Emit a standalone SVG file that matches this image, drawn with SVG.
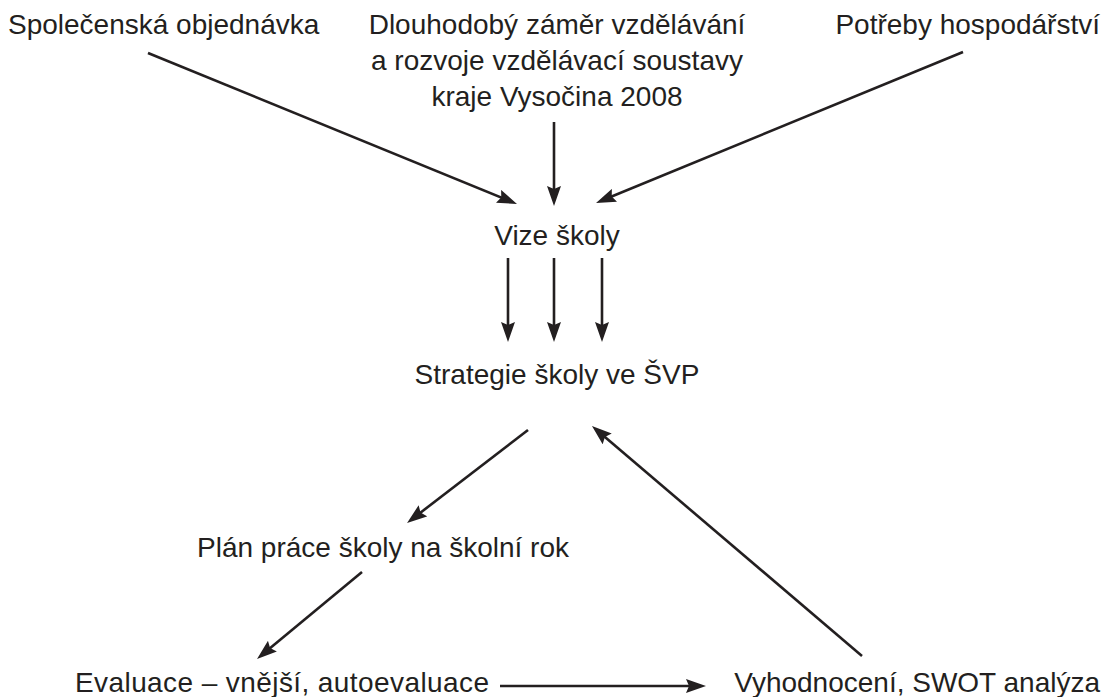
<svg xmlns="http://www.w3.org/2000/svg" width="1108" height="697" viewBox="0 0 1108 697">
<style>
text{font-family:"Liberation Sans",Arial,Helvetica,sans-serif;font-size:28px;fill:#231f20}
.c{text-anchor:middle}
.e{text-anchor:end}
line{stroke:#231f20;stroke-width:2.6;fill:none}
</style>
<defs>
<marker id="ah" viewBox="0 0 20 14" refX="13" refY="7" markerWidth="20" markerHeight="14" markerUnits="userSpaceOnUse" orient="auto">
<path d="M0,0 L20,7 L0,14 L3,7 z" fill="#231f20"/>
</marker>
</defs>
<rect width="1108" height="697" fill="#fff"/>
<g id="n-spolecenska"><text x="8" y="34">Společenská objednávka</text></g>
<g id="n-zamer"><text class="c" x="557" y="34">Dlouhodobý záměr vzdělávání</text><text class="c" x="557" y="70">a rozvoje vzdělávací soustavy</text><text class="c" x="557" y="106">kraje Vysočina 2008</text></g>
<g id="n-potreby"><text class="e" x="1100" y="34">Potřeby hospodářství</text></g>
<g id="n-vize"><text class="c" x="557" y="245">Vize školy</text></g>
<g id="n-strategie"><text class="c" x="557" y="384">Strategie školy ve ŠVP</text></g>
<g id="n-plan"><text class="c" x="383" y="557">Plán práce školy na školní rok</text></g>
<g id="n-evaluace"><text class="c" x="282" y="692" textLength="414">Evaluace – vnější, autoevaluace</text></g>
<g id="n-vyhodnoceni"><text class="e" x="1100" y="692">Vyhodnocení, SWOT analýza</text></g>
<g id="connectors">
<line x1="148" y1="53" x2="510.5" y2="201.3" marker-end="url(#ah)"/>
<line x1="554" y1="122" x2="554" y2="199" marker-end="url(#ah)"/>
<line x1="963" y1="52" x2="602.5" y2="200.3" marker-end="url(#ah)"/>
<line x1="508" y1="258" x2="508" y2="335" marker-end="url(#ah)"/>
<line x1="554" y1="258" x2="554" y2="335" marker-end="url(#ah)"/>
<line x1="602" y1="258" x2="602" y2="335" marker-end="url(#ah)"/>
<line x1="528" y1="430" x2="412.6" y2="518.7" marker-end="url(#ah)"/>
<line x1="362" y1="572" x2="262.4" y2="654.5" marker-end="url(#ah)"/>
<line x1="500" y1="686" x2="699" y2="686" marker-end="url(#ah)"/>
<line x1="862" y1="656" x2="597.3" y2="430.5" marker-end="url(#ah)"/>
</g>
</svg>
